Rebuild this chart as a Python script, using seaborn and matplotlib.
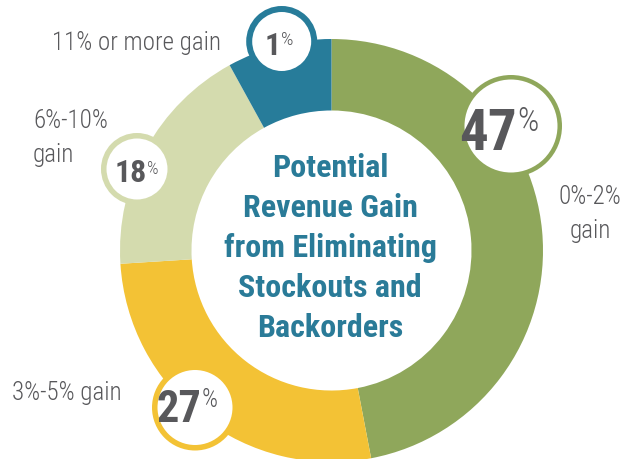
import matplotlib
matplotlib.use("Agg")
import matplotlib.pyplot as plt
from matplotlib.patches import Circle
import seaborn as sns

# ---- data ----
categories = ["0%-2%\ngain", "3%-5% gain", "6%-10%\ngain", "11% or more gain"]
shares = [47, 27, 18, 8]              # wedge sizes as drawn
pct_labels = ["47", "27", "18", "1"]  # numbers printed in the bubbles
title_lines = ["Potential", "Revenue Gain", "from Eliminating", "Stockouts and", "Backorders"]

colors = ["#8fa75b", "#f3c235", "#d4dbae", "#277c9a"]
text_gray = "#58585b"
title_col = "#2a7b98"

sns.set_theme(style="white")
FAM = ["Roboto Condensed", "Liberation Sans Narrow", "Roboto", "DejaVu Sans"]
plt.rcParams["font.family"] = FAM

W, H = 631, 459
fig = plt.figure(figsize=(W / 100, H / 100), dpi=100, facecolor="white")
ax = fig.add_axes([0, 0, 1, 1])

CX, CY, R = 331.5, 250.5, 211.5   # pixel center / radius of ring


def d(x, y):
    return (x - CX) / R, (CY - y) / R


ax.pie(shares, radius=1.0, startangle=90, counterclock=False, colors=colors,
       wedgeprops=dict(width=0.338, linewidth=0))

x0, y0 = d(0, 0)
x1, y1 = d(W, H)
ax.set_xlim(x0, x1)
ax.set_ylim(y1, y0)
ax.set_aspect("equal")
ax.axis("off")

# bubbles: (center px, outer radius px, border px, number size, pct size,
#           number right edge px, number baseline, pct baseline)
bubbles = [
    ((511, 126), 51, 4.5, 41, 24, 517, 150, 131),
    ((195, 407.5), 43, 5.5, 32, 18, 201.5, 422, 407),
    ((137, 169), 36, 5.5, 23, 13, 146.5, 182, 174),
    ((281.7, 41.5), 35.5, 6.0, 23, 14, 280.5, 55, 45),
]
for i, (c, ro, bw, nfs, pfs, xr, nb, pb) in enumerate(bubbles):
    cx, cy = d(*c)
    r = (ro - bw / 2) / R
    ax.add_patch(Circle((cx, cy), r, facecolor="white", edgecolor=colors[i],
                        linewidth=bw * 0.72, zorder=5))
    ax.text(*d(xr, nb), pct_labels[i], ha="right", va="baseline",
            fontsize=nfs, fontweight="bold", color=text_gray, zorder=6)
    ax.text(*d(xr + 0.5, pb), "%", ha="left", va="baseline",
            fontsize=pfs, fontweight="light", color=text_gray, zorder=6)

# category labels: (anchor x, first baseline, alignment)
lab_fs = 18
lab_pos = [(590, 204, "center"), (12, 400, "left"), (33, 128, "left"), (52, 50, "left")]
for cat, (lx, ly, ha) in zip(categories, lab_pos):
    for j, part in enumerate(cat.split("\n")):
        ax.text(*d(lx, ly + 34 * j), part, ha=ha, va="baseline", fontsize=lab_fs,
                fontweight="light", color=text_gray)

# center title
for k, line in enumerate(title_lines):
    ax.text(*d(330, 177 + 40 * k), line, ha="center", va="baseline",
            fontsize=23, fontweight="bold", color=title_col)

fig.savefig("out.png", dpi=100, facecolor="white")
